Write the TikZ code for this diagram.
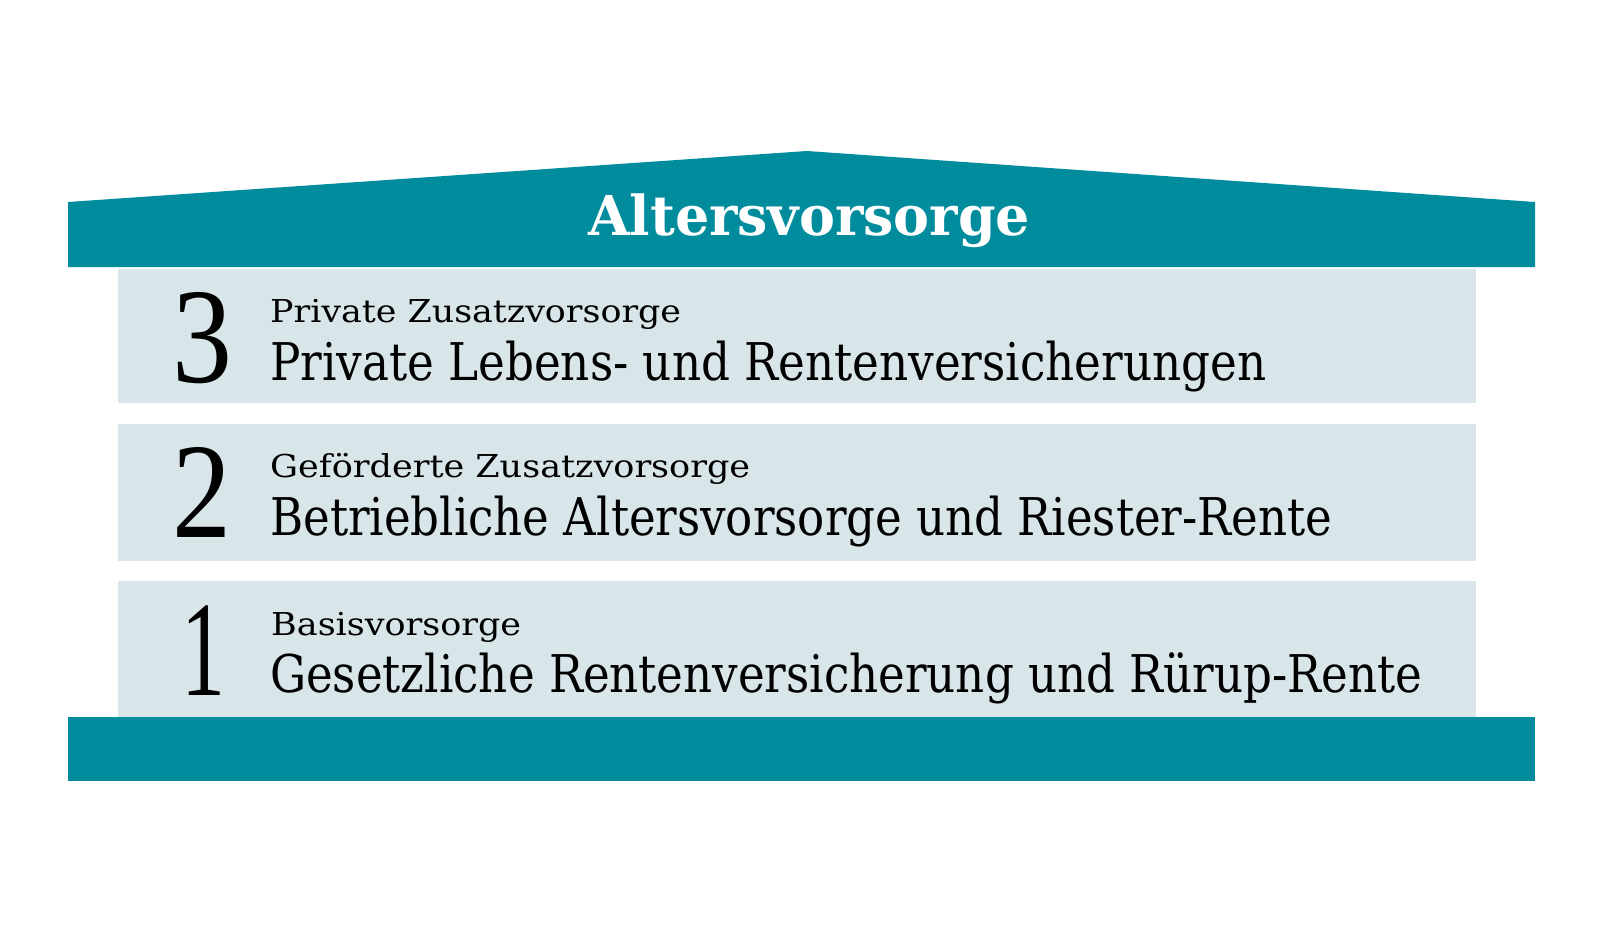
\documentclass[tikz,border=0pt]{standalone}
\usepackage{fontspec}
\setmainfont{DejaVu Serif Condensed}[BoldFont={DejaVu Serif Condensed Bold}]
\newfontfamily\numfont{Liberation Serif}
\usepackage{graphicx}
\definecolor{teal1}{HTML}{008C9C}
\definecolor{pale}{HTML}{D8E5E9}
\newcommand\fitw[2]{\resizebox{#1}{\height}{#2}}
\tikzset{
  band/.style={fill=teal1, draw=none},
  rowbox/.style={fill=pale, draw=none},
  numtxt/.style={inner sep=0pt, anchor=base, font=\numfont\fontsize{136}{136}\selectfont},
  smalltxt/.style={inner sep=0pt, anchor=base west, font=\fontsize{31.5}{33}\selectfont},
  bigtxt/.style={inner sep=0pt, anchor=base west, font=\fontsize{52}{55}\selectfont},
  titletxt/.style={inner sep=0pt, anchor=base, text=white, font=\bfseries\fontsize{55}{58}\selectfont}
}
\begin{document}
\begin{tikzpicture}[x=1pt,y=-1pt]
\useasboundingbox (0,0) rectangle (1610,938);
\fill[white] (0,0) rectangle (1610,938);
% roof
\fill[band] (68,202) -- (807,151) -- (1535,202) -- (1535,267) -- (68,267) -- cycle;
\node[titletxt] (title) at (809,235) {\fitw{442pt}{Altersvorsorge}};
% rows
\fill[rowbox] (118,269) rectangle (1476,403);
\fill[rowbox] (118,424) rectangle (1476,561);
\fill[rowbox] (118,581) rectangle (1476,717);
% bottom band
\fill[band] (68,717) rectangle (1535,781);
% row 3
\node[numtxt] (n3) at (202,382) {\fitw{60pt}{3}};
\node[smalltxt] (s3) at (270,322) {\fitw{411pt}{Private Zusatzvorsorge}};
\node[bigtxt] (b3) at (270,380) {\fitw{996pt}{Private Lebens- und Rentenversicherungen}};
% row 2
\node[numtxt] (n2) at (202,537) {\fitw{59pt}{2}};
\node[smalltxt] (s2) at (270,477) {\fitw{480pt}{Geförderte Zusatzvorsorge}};
\node[bigtxt] (b2) at (270,535) {\fitw{1062pt}{Betriebliche Altersvorsorge und Riester-Rente}};
% row 1
\node[numtxt] (n1) at (203,695) {\fitw{44pt}{1}};
\node[smalltxt] (s1) at (271,635) {\fitw{250pt}{Basisvorsorge}};
\node[bigtxt] (b1) at (270,692) {\fitw{1152pt}{Gesetzliche Rentenversicherung und Rürup-Rente}};
\end{tikzpicture}
\end{document}
